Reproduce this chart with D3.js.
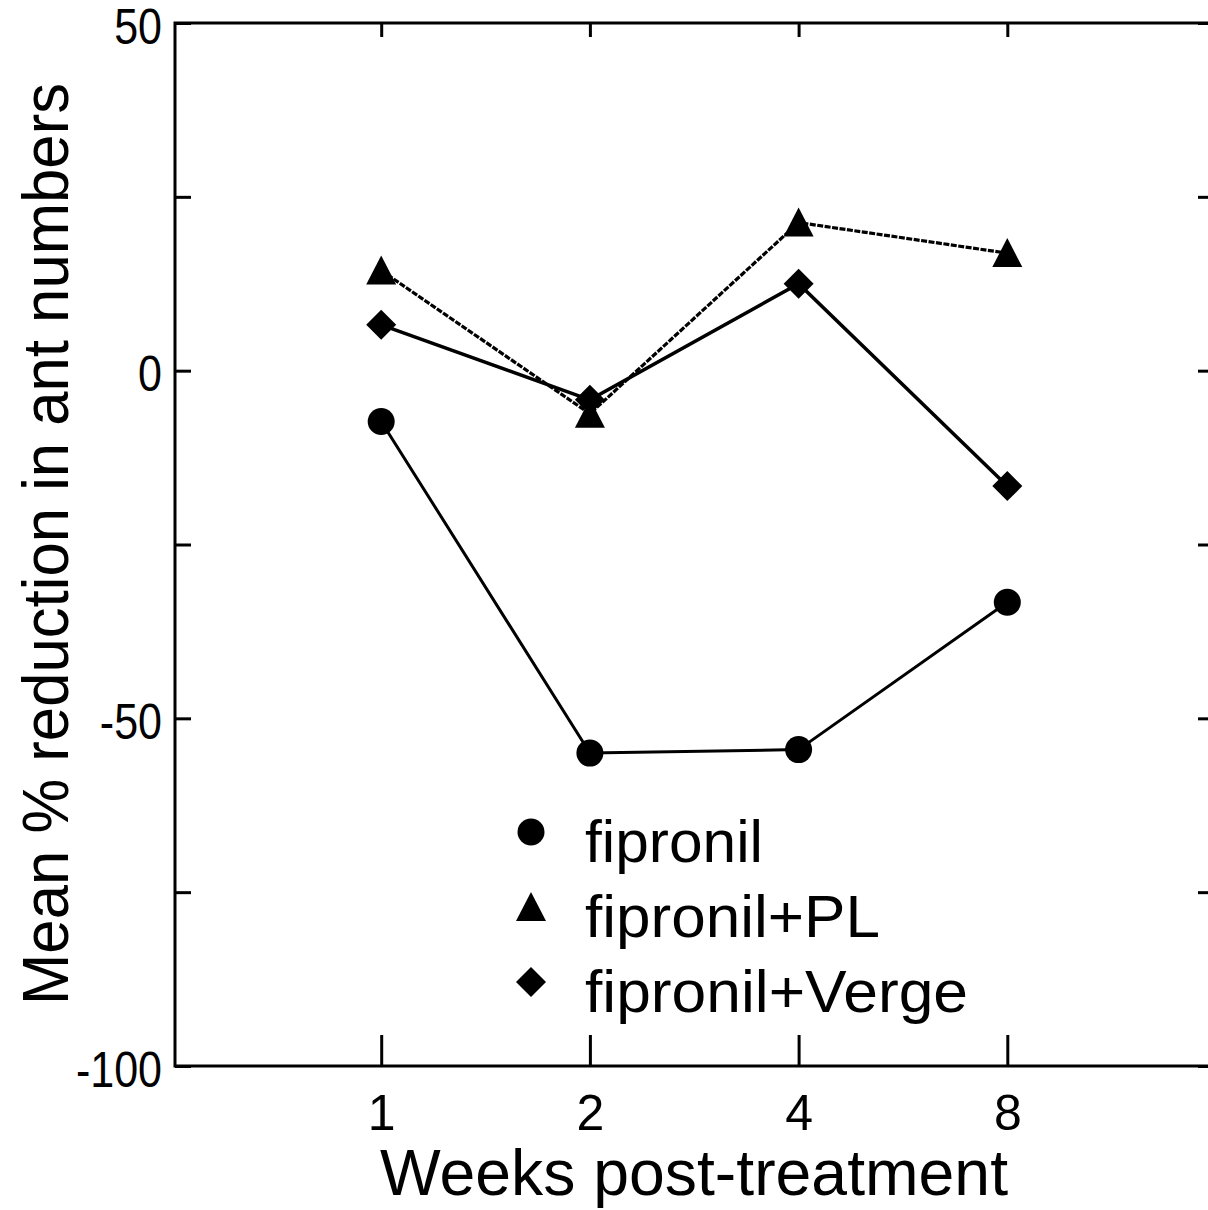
<!DOCTYPE html>
<html>
<head>
<meta charset="utf-8">
<script src="https://cdn.jsdelivr.net/npm/d3@7"></script>
<style>
  html, body { margin: 0; padding: 0; background: #fff; }
  svg { display: block; }
  text { font-family: "Liberation Sans", Arial, sans-serif; fill: #000; }
</style>
</head>
<body>
<svg id="chart" width="1208" height="1210"></svg>
<script>
// ---- data ----
const weeks = ["1", "2", "4", "8"];
const fipronil = [-7.3, -55.0, -54.5, -33.3];
const fipronilPL = [14.4, -6.2, 21.3, 16.9];
const fipronilVerge = [6.6, -4.2, 12.5, -16.6];
const seriesNames = ["fipronil", "fipronil+PL", "fipronil+Verge"];
const yTicks = [50, 25, 0, -25, -50, -75, -100];
const yLabelTicks = [50, 0, -50, -100];
const xTitle = "Weeks post-treatment";
const yTitle = "Mean % reduction in ant numbers";

(function () {
// ---- layout ----
const svg = d3.select("#chart");
const mL = 175, mR = 1218, mT = 23, mB = 1066;

const x = d3.scaleLinear().domain([0, 5]).range([172.5, 1216]);
const y = d3.scaleLinear().domain([-100, 50]).range([mB, mT]);
const xi = i => x(i + 1);

// frame
svg.append("rect")
  .attr("x", mL).attr("y", mT)
  .attr("width", mR - mL).attr("height", mB - mT)
  .attr("fill", "none").attr("stroke", "#000").attr("stroke-width", 3);

// left axis
const gL = svg.append("g").attr("transform", `translate(${mL},0)`)
  .call(d3.axisLeft(y).tickValues(yTicks).tickSize(-16).tickPadding(0)
    .tickFormat(d => yLabelTicks.includes(d) ? String(d) : ""));
gL.select(".domain").remove();
gL.selectAll("line").attr("stroke", "#000").attr("stroke-width", 3);
gL.selectAll("text")
  .attr("x", -13).attr("dy", "0.4em")
  .style("font-size", "50px")
  .attr("text-anchor", "end")
  .each(function () {
    const w = this.getComputedTextLength();
    if (w > 0) { d3.select(this).attr("textLength", w * 0.86).attr("lengthAdjust", "spacingAndGlyphs"); }
  });

// right axis ticks
const gR = svg.append("g").attr("transform", `translate(${mR},0)`)
  .call(d3.axisRight(y).tickValues(yTicks).tickSize(-20).tickFormat(""));
gR.select(".domain").remove();
gR.selectAll("line").attr("stroke", "#000").attr("stroke-width", 3);

// bottom axis
const gB = svg.append("g").attr("transform", `translate(0,${mB})`)
  .call(d3.axisBottom(x).tickValues([1, 2, 3, 4]).tickSize(-31)
    .tickFormat((d) => weeks[d - 1]));
gB.select(".domain").remove();
gB.selectAll("line").attr("stroke", "#000").attr("stroke-width", 3);
gB.selectAll("text")
  .attr("y", 64).attr("dy", 0)
  .style("font-size", "50px");

// top axis ticks
const gT = svg.append("g").attr("transform", `translate(0,${mT})`)
  .call(d3.axisTop(x).tickValues([1, 2, 3, 4]).tickSize(-14).tickFormat(""));
gT.select(".domain").remove();
gT.selectAll("line").attr("stroke", "#000").attr("stroke-width", 3);

// titles
svg.append("text")
  .attr("x", (380 + 1008) / 2).attr("y", 1195)
  .attr("text-anchor", "middle")
  .style("font-size", "65px")
  .attr("textLength", 628).attr("lengthAdjust", "spacingAndGlyphs")
  .text(xTitle);

svg.append("text")
  .attr("transform", "translate(68,544) rotate(-90)")
  .attr("text-anchor", "middle")
  .style("font-size", "65px")
  .attr("textLength", 922).attr("lengthAdjust", "spacingAndGlyphs")
  .text(yTitle);

// ---- series ----
const series = [
  { name: seriesNames[0], values: fipronil, shape: d3.symbolCircle, size: Math.PI * 13.5 * 13.5, dash: null, width: 3 },
  { name: seriesNames[1], values: fipronilPL, shape: d3.symbolTriangle, size: 420, dash: "6,1.5", width: 3.2 },
  { name: seriesNames[2], values: fipronilVerge, shape: d3.symbolDiamond, size: 0, dash: null, width: 3.5 }
];

const line = d3.line().x((d, i) => xi(i)).y(d => y(d));

series.forEach(s => {
  svg.append("path")
    .datum(s.values)
    .attr("d", line)
    .attr("fill", "none")
    .attr("stroke", "#000")
    .attr("stroke-width", s.width)
    .attr("stroke-dasharray", s.dash);
});

function marker(sel, s) {
  if (s.shape === d3.symbolDiamond) {
    const h = 15;
    sel.attr("d", `M0,${-h}L${h},0L0,${h}L${-h},0Z`);
  } else if (s.shape === d3.symbolTriangle) {
    const w = 15, ht = 29;
    sel.attr("d", `M0,${-ht * 0.52}L${w},${ht * 0.48}L${-w},${ht * 0.48}Z`);
  } else {
    sel.attr("d", d3.symbol().type(s.shape).size(s.size)());
  }
  return sel;
}

series.forEach(s => {
  s.values.forEach((v, i) => {
    marker(svg.append("path"), s)
      .attr("transform", `translate(${xi(i)},${y(v)})`)
      .attr("fill", "#000");
  });
});

// ---- legend ----
const legendY = [832, 907, 982];
const legendW = [178, 295, 383];
series.forEach((s, i) => {
  marker(svg.append("path"), s)
    .attr("transform", `translate(531,${legendY[i]})`)
    .attr("fill", "#000");
  svg.append("text")
    .attr("x", 585).attr("y", legendY[i] + 30)
    .style("font-size", "60px")
    .attr("textLength", legendW[i]).attr("lengthAdjust", "spacingAndGlyphs")
    .text(s.name);
});
})();
</script>
</body>
</html>
